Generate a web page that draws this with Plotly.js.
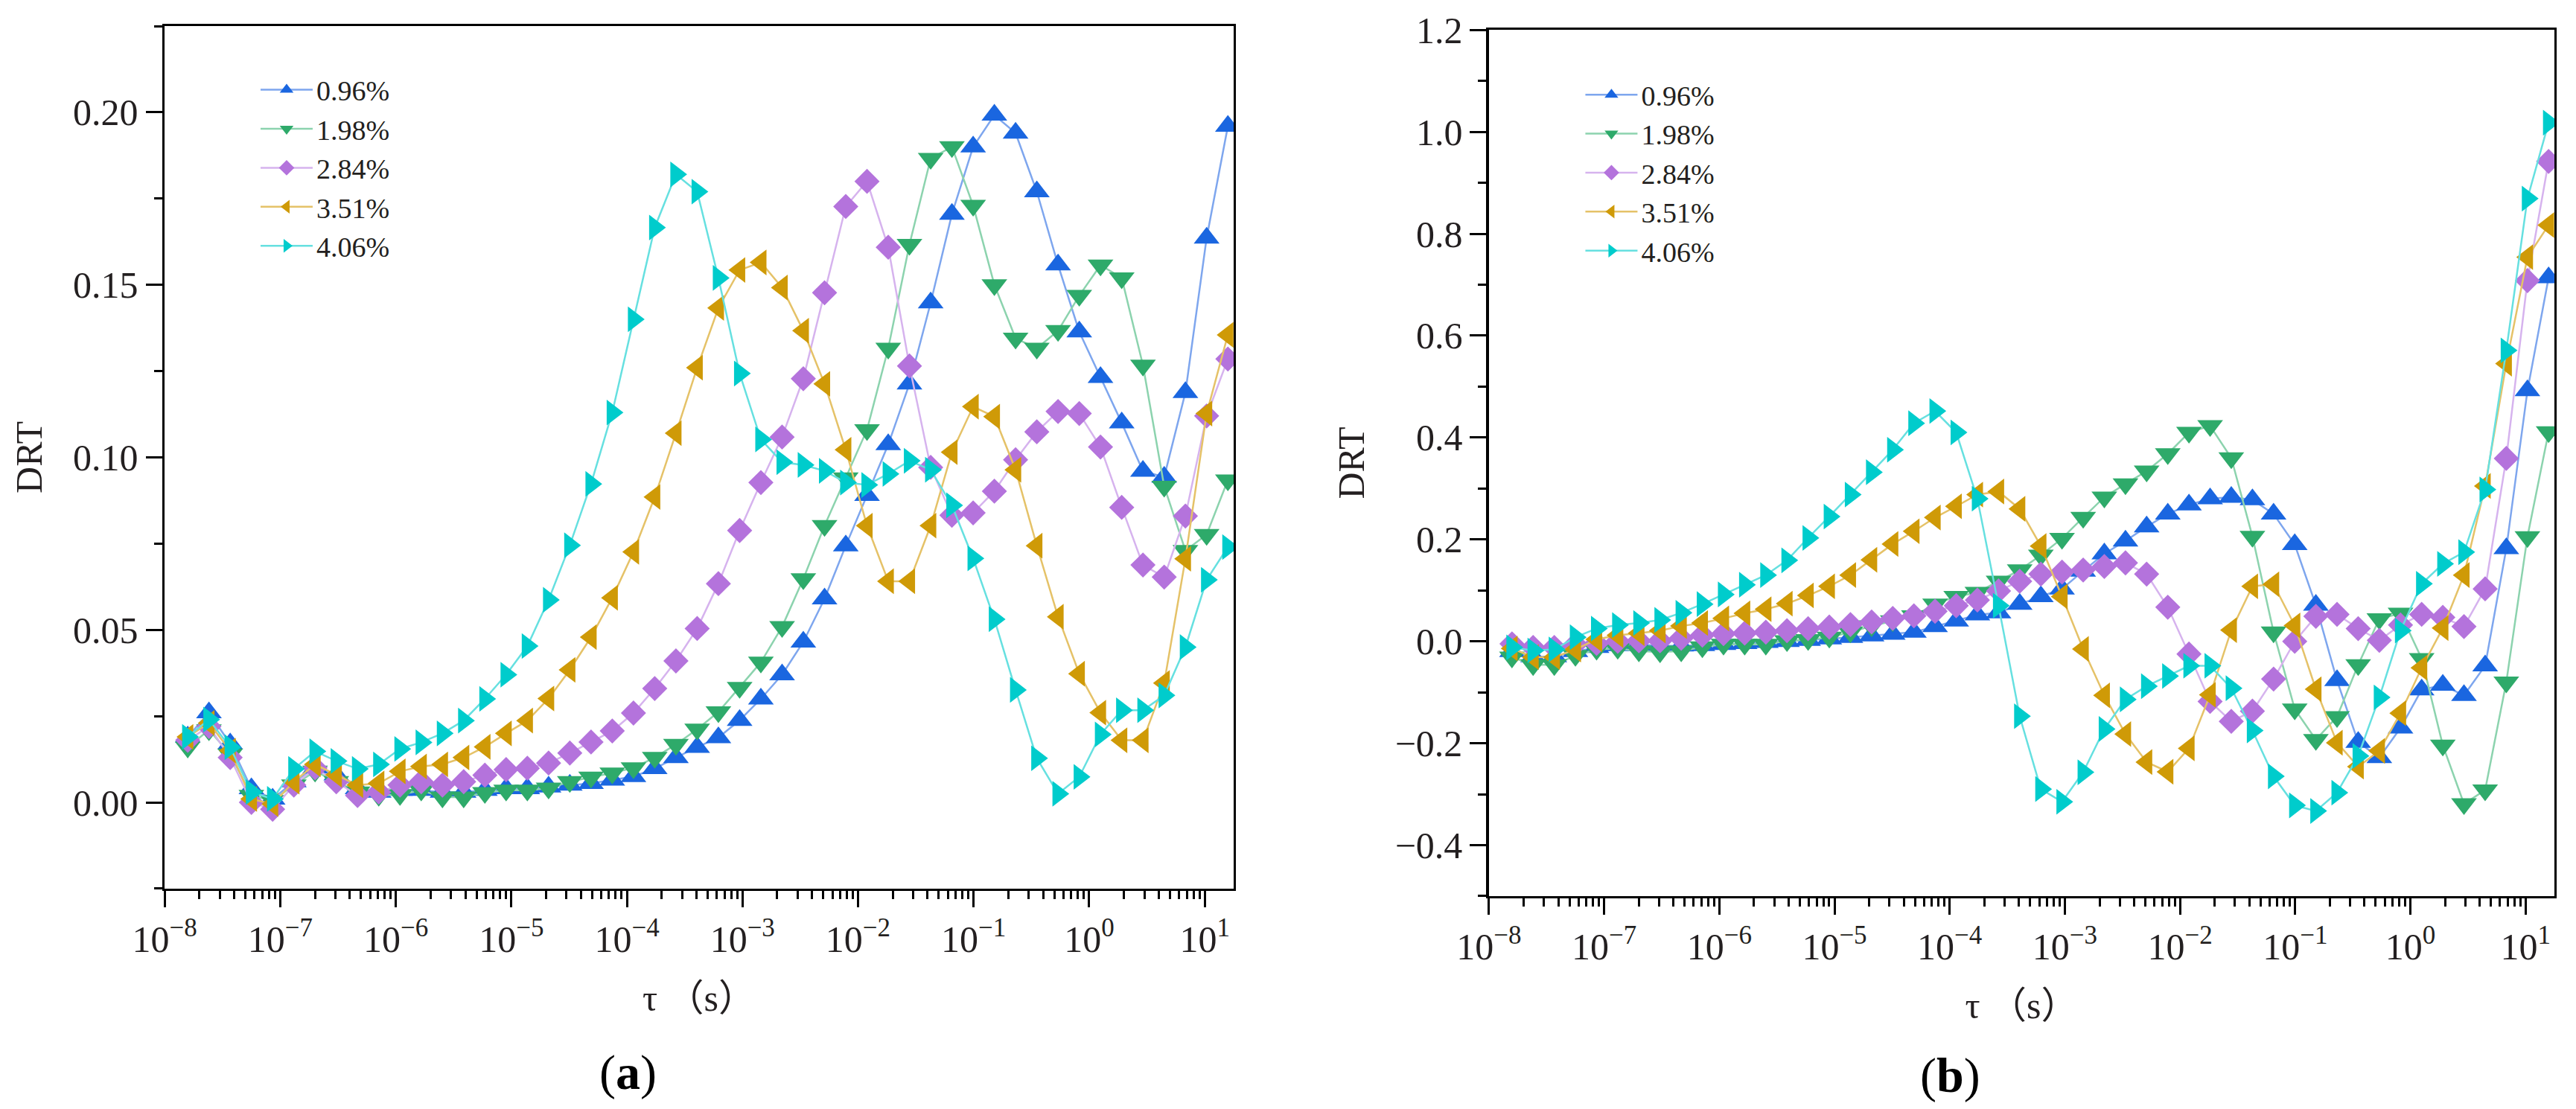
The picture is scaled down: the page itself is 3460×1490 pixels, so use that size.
<!DOCTYPE html>
<html>
<head>
<meta charset="utf-8">
<script src="https://cdn.plot.ly/plotly-3.0.1.min.js"></script>
<style>
  html, body { margin: 0; padding: 0; background: #fff; }
  #chart { width: 3460px; height: 1490px; }
</style>
</head>
<body>
<div id="chart"></div>
<script>
// relaxation time grid (s), same for both panels
var tau = [1.585e-8, 2.419e-8, 3.694e-8, 5.636e-8, 8.603e-8, 1.313e-7, 2.004e-7, 3.059e-7, 4.670e-7, 7.128e-7,
           1.088e-6, 1.661e-6, 2.535e-6, 3.870e-6, 5.906e-6, 9.016e-6, 1.376e-5, 2.101e-5, 3.206e-5, 4.894e-5,
           7.471e-5, 1.140e-4, 1.741e-4, 2.657e-4, 4.056e-4, 6.191e-4, 9.451e-4, 1.443e-3, 2.202e-3, 3.361e-3,
           5.131e-3, 7.832e-3, 1.196e-2, 1.825e-2, 2.786e-2, 4.252e-2, 6.491e-2, 9.906e-2, 0.1512, 0.2308,
           0.3523, 0.5378, 0.8209, 1.253, 1.912, 2.919, 4.457, 6.803, 10.38, 15.85];

var seriesNames = ['0.96%', '1.98%', '2.84%', '3.51%', '4.06%'];

// panel (a)
var a096 = [0.019, 0.026, 0.017, 0.004, 0.001, 0.006, 0.010, 0.008, 0.004, 0.003,
            0.0035, 0.0035, 0.003, 0.003, 0.0035, 0.004, 0.004, 0.0045, 0.005, 0.0055,
            0.0065, 0.0075, 0.0098, 0.013, 0.016, 0.0188, 0.0238, 0.030, 0.037, 0.0465,
            0.059, 0.0744, 0.089, 0.1037, 0.1213, 0.1448, 0.1705, 0.190, 0.1992, 0.194,
            0.177, 0.1558, 0.1364, 0.1232, 0.110, 0.096, 0.0943, 0.1188, 0.1636, 0.196];
var a198 = [0.016, 0.021, 0.014, 0.002, 0.0005, 0.005, 0.009, 0.006, 0.003, 0.002,
            0.0022, 0.0035, 0.0015, 0.0015, 0.0028, 0.0035, 0.0035, 0.0041, 0.006, 0.0073,
            0.0085, 0.010, 0.013, 0.0168, 0.0212, 0.0262, 0.0333, 0.0406, 0.0509, 0.0648,
            0.0802, 0.094, 0.108, 0.1316, 0.1617, 0.1866, 0.190, 0.173, 0.150, 0.1345,
            0.1316, 0.1367, 0.1469, 0.1557, 0.152, 0.1267, 0.0916, 0.073, 0.0776, 0.0934];
var a284 = [0.018, 0.022, 0.013, 0.0, -0.002, 0.005, 0.010, 0.006, 0.002, 0.003,
            0.005, 0.006, 0.005, 0.006, 0.0079, 0.0095, 0.0099, 0.0114, 0.0143, 0.0175,
            0.0207, 0.0259, 0.033, 0.041, 0.0504, 0.0634, 0.0788, 0.0927, 0.1059, 0.1228,
            0.1477, 0.1727, 0.180, 0.1609, 0.1265, 0.0971, 0.0832, 0.0839, 0.0902, 0.0993,
            0.1074, 0.1133, 0.1127, 0.103, 0.0855, 0.0688, 0.0653, 0.083, 0.112, 0.1285];
var a351 = [0.019, 0.023, 0.015, 0.001, -0.0005, 0.006, 0.011, 0.008, 0.005, 0.0055,
            0.009, 0.0104, 0.011, 0.013, 0.0161, 0.020, 0.0237, 0.0301, 0.0384, 0.0479,
            0.0593, 0.0726, 0.0885, 0.107, 0.126, 0.1433, 0.1543, 0.1565, 0.1492, 0.1367,
            0.1213, 0.1022, 0.0802, 0.0641, 0.0641, 0.0802, 0.1015, 0.1147, 0.1118, 0.0964,
            0.0744, 0.0538, 0.0373, 0.026, 0.018, 0.018, 0.0346, 0.0706, 0.1127, 0.1355];
var a406 = [0.019, 0.024, 0.016, 0.003, 0.001, 0.0097, 0.0148, 0.012, 0.0097, 0.011,
            0.0155, 0.0174, 0.020, 0.0237, 0.030, 0.037, 0.0453, 0.0587, 0.0745, 0.0923,
            0.113, 0.140, 0.1666, 0.182, 0.177, 0.152, 0.1243, 0.1052, 0.0986, 0.0978,
            0.0961, 0.0927, 0.092, 0.0952, 0.099, 0.0964, 0.0861, 0.0707, 0.0531, 0.0326,
            0.0128, 0.0025, 0.0074, 0.0197, 0.0267, 0.0267, 0.031, 0.045, 0.0645, 0.074];

// panel (b)
var b096 = [-0.02, -0.03, -0.03, -0.02, -0.012, -0.008, -0.006, -0.009, -0.009, -0.008,
            -0.006, -0.004, -0.002, 0.0, 0.002, 0.005, 0.008, 0.011, 0.014, 0.018,
            0.029, 0.04, 0.052, 0.056, 0.073, 0.088, 0.103, 0.138, 0.172, 0.197,
            0.225, 0.25, 0.268, 0.28, 0.283, 0.278, 0.25, 0.19, 0.071, -0.077,
            -0.198, -0.228, -0.17, -0.095, -0.086, -0.106, -0.048, 0.182, 0.492, 0.714];
var b198 = [-0.031, -0.046, -0.046, -0.028, -0.016, -0.014, -0.019, -0.021, -0.019, -0.011,
            -0.006, -0.006, -0.006, 0.001, 0.003, 0.008, 0.018, 0.030, 0.040, 0.05,
            0.073, 0.088, 0.096, 0.118, 0.14, 0.169, 0.202, 0.243, 0.283, 0.309,
            0.334, 0.368, 0.41, 0.423, 0.36, 0.206, 0.018, -0.133, -0.193, -0.148,
            -0.046, 0.044, 0.055, -0.034, -0.204, -0.319, -0.292, -0.08, 0.205, 0.411];
var b284 = [-0.005, -0.012, -0.012, -0.006, -0.004, 0.0, 0.001, 0.001, 0.006, 0.012,
            0.015, 0.016, 0.018, 0.021, 0.025, 0.028, 0.033, 0.038, 0.045, 0.05,
            0.059, 0.07, 0.081, 0.099, 0.118, 0.132, 0.136, 0.14, 0.147, 0.154,
            0.132, 0.067, -0.025, -0.118, -0.157, -0.137, -0.074, 0.0, 0.049, 0.053,
            0.025, 0.002, 0.032, 0.053, 0.047, 0.029, 0.103, 0.359, 0.708, 0.942];
var b351 = [-0.014, -0.031, -0.031, -0.016, 0.004, 0.012, 0.016, 0.021, 0.030, 0.036,
            0.045, 0.055, 0.063, 0.074, 0.09, 0.108, 0.13, 0.16, 0.191, 0.216,
            0.243, 0.265, 0.288, 0.294, 0.26, 0.187, 0.088, -0.015, -0.106, -0.182,
            -0.237, -0.256, -0.21, -0.105, 0.022, 0.108, 0.112, 0.031, -0.094, -0.199,
            -0.246, -0.215, -0.141, -0.052, 0.026, 0.13, 0.305, 0.545, 0.754, 0.817];
var b406 = [-0.012, -0.018, -0.016, 0.008, 0.025, 0.032, 0.036, 0.042, 0.056, 0.073,
            0.092, 0.111, 0.130, 0.159, 0.203, 0.245, 0.288, 0.332, 0.376, 0.428,
            0.452, 0.41, 0.28, 0.07, -0.147, -0.29, -0.315, -0.257, -0.172, -0.114,
            -0.088, -0.068, -0.048, -0.048, -0.092, -0.175, -0.265, -0.322, -0.333, -0.297,
            -0.225, -0.11, 0.021, 0.113, 0.152, 0.175, 0.298, 0.571, 0.869, 1.018];

// x tick labels
var xTickVals = [1e-8, 1e-7, 1e-6, 1e-5, 1e-4, 1e-3, 1e-2, 1e-1, 1, 10];
var xTickText = ['10<sup>−8</sup>', '10<sup>−7</sup>', '10<sup>−6</sup>', '10<sup>−5</sup>', '10<sup>−4</sup>',
                 '10<sup>−3</sup>', '10<sup>−2</sup>', '10<sup>−1</sup>', '10<sup>0</sup>', '10<sup>1</sup>'];

var markerColors = ['#1A66E0', '#2EAA6A', '#B473DC', '#CF9A07', '#00CCCC'];
var lineColors = ['#7EA6EE', '#8CD3AE', '#D6B3EE', '#E5C268', '#66E0E0'];
var symbols = ['triangle-up', 'triangle-down', 'diamond', 'triangle-left', 'triangle-right'];
var sizes = [30, 30, 26, 30, 30];

var panelA = [a096, a198, a284, a351, a406];
var panelB = [b096, b198, b284, b351, b406];

// minor ticks 2..9 in every decade
var minorVals = [];
for (var p = -8; p <= 1; p++) {
    for (var m = 2; m <= 9; m++) {
        minorVals.push(m * Math.pow(10, p));
    }
}

var data = [];
for (var i = 0; i < 5; i++) {
    data.push({
        x: tau,
        y: panelA[i],
        name: seriesNames[i],
        type: 'scatter',
        mode: 'lines+markers',
        xaxis: 'x',
        yaxis: 'y',
        legend: 'legend',
        line: { color: lineColors[i], width: 2.5 },
        marker: { symbol: symbols[i], size: sizes[i], color: markerColors[i] }
    });
}
for (var i = 0; i < 5; i++) {
    data.push({
        x: tau,
        y: panelB[i],
        name: seriesNames[i],
        type: 'scatter',
        mode: 'lines+markers',
        xaxis: 'x2',
        yaxis: 'y2',
        legend: 'legend2',
        line: { color: lineColors[i], width: 2.5 },
        marker: { symbol: symbols[i], size: sizes[i], color: markerColors[i] }
    });
}

var fontFamily = 'Liberation Serif, Noto Sans CJK SC, serif';
var textColor = '#231F20';

function xAxis(domain, anchor) {
    return {
        type: 'log',
        domain: domain,
        anchor: anchor,
        range: [-8, 1.25],
        tickmode: 'array',
        tickvals: xTickVals,
        ticktext: xTickText,
        ticks: 'outside',
        ticklen: 22,
        tickwidth: 3,
        tickcolor: '#000',
        minor: { tickmode: 'array', tickvals: minorVals, ticks: 'outside', ticklen: 11, tickwidth: 3, tickcolor: '#000' },
        showline: true,
        linecolor: '#000',
        linewidth: 3.5,
        mirror: true,
        showgrid: false,
        zeroline: false,
        tickfont: { family: fontFamily, size: 50, color: textColor },
        title: { text: 'τ （s）', font: { family: fontFamily, size: 50, color: textColor }, standoff: 34 }
    };
}

function yAxis(domain, anchor, range, dtick, minorDtick, fmt) {
    return {
        domain: domain,
        anchor: anchor,
        range: range,
        tick0: 0,
        dtick: dtick,
        tickformat: fmt,
        ticks: 'outside',
        ticklen: 22,
        tickwidth: 3,
        tickcolor: '#000',
        minor: { tick0: 0, dtick: minorDtick, ticks: 'outside', ticklen: 11, tickwidth: 3, tickcolor: '#000' },
        showline: true,
        linecolor: '#000',
        linewidth: 3.5,
        mirror: true,
        showgrid: false,
        zeroline: false,
        tickfont: { family: fontFamily, size: 50, color: textColor },
        title: { text: 'DRT', font: { family: fontFamily, size: 50, color: textColor }, standoff: 26 }
    };
}

var layout = {
    width: 3460,
    height: 1490,
    paper_bgcolor: '#fff',
    plot_bgcolor: '#fff',
    margin: { t: 0, b: 0, l: 0, r: 0 },
    xaxis: xAxis([0.0639, 0.4789], 'y'),
    yaxis: yAxis([0.1987, 0.9765], 'x', [-0.025, 0.225], 0.05, 0.025, '.2f'),
    xaxis2: xAxis([0.578, 0.9916], 'y2'),
    yaxis2: yAxis([0.192, 0.973], 'x2', [-0.5, 1.2], 0.2, 0.1, '.1f'),
    legend: {
        x: 0.0997, y: 0.94, xanchor: 'left', yanchor: 'top',
        itemwidth: 70,
        bgcolor: 'rgba(0,0,0,0)',
        font: { family: fontFamily, size: 38, color: textColor }
    },
    legend2: {
        x: 0.614, y: 0.9356, xanchor: 'left', yanchor: 'top',
        itemwidth: 70,
        bgcolor: 'rgba(0,0,0,0)',
        font: { family: fontFamily, size: 38, color: textColor }
    },
    annotations: [
        { text: '(<b>a</b>)', xref: 'paper', yref: 'paper', x: 0.2437, y: 0.033, xanchor: 'center', yanchor: 'middle',
          showarrow: false, font: { family: fontFamily, size: 66, color: '#000' } },
        { text: '(<b>b</b>)', xref: 'paper', yref: 'paper', x: 0.757, y: 0.030, xanchor: 'center', yanchor: 'middle',
          showarrow: false, font: { family: fontFamily, size: 66, color: '#000' } }
    ]
};

//Create the chart
Plotly.newPlot('chart', data, layout, { staticPlot: true });
</script>
</body>
</html>
